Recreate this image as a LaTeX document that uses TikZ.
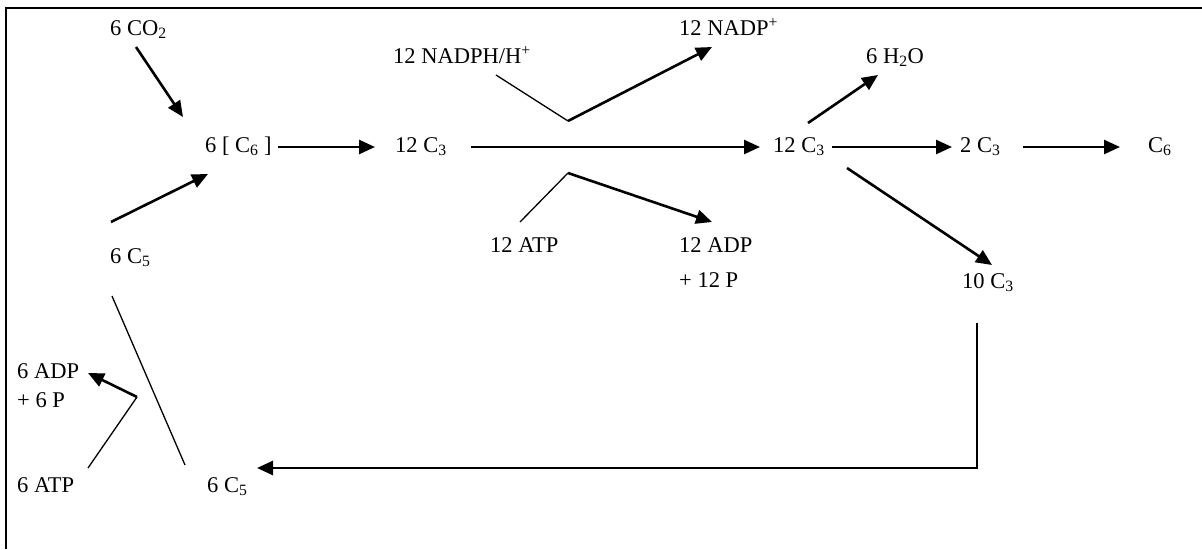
\documentclass[tikz,border=0pt]{standalone}
\usepackage{fontspec}
\setmainfont{Liberation Serif}
\usetikzlibrary{arrows.meta}
\begin{document}
\begin{tikzpicture}[x=1pt,y=-1pt,
  lbl/.style={anchor=base west,inner sep=0pt,font=\fontsize{22.5}{27}\selectfont},
  thick arrow/.style={line width=2.6pt,-{Triangle[length=16pt,width=14pt]}},
  thin line/.style={line width=1.3pt}]
\useasboundingbox (0,0) rectangle (1202,549);
% frame (only top and left edges visible)
\draw[line width=2.4pt] (1202,8) -- (6,8) -- (6,549);
% labels
\node[lbl] (co2) at (110,35) {6 CO\textsubscript{2}};
\node[lbl] (c6a) at (205,152) {6 [ C\textsubscript{6} ]};
\node[lbl] (c5a) at (110,263) {6 C\textsubscript{5}};
\node[lbl] (nadp) at (679,35) {12 NADP\textsuperscript{+}};
\node[lbl] (nadph) at (393,63) {12 NADPH/H\textsuperscript{+}};
\node[lbl] (c3a) at (395,152) {12 C\textsubscript{3}};
\node[lbl] (atp12) at (490,252) {12 ATP};
\node[lbl] (adp12) at (679,252) {\begin{tabular}[t]{@{}l@{}}12 ADP\\[8pt]+ 12 P\end{tabular}};
\node[lbl] (h2o) at (866,63) {6 H\textsubscript{2}O};
\node[lbl] (c3b) at (773,152) {12 C\textsubscript{3}};
\node[lbl] (c3c) at (960,152) {2 C\textsubscript{3}};
\node[lbl] (c6b) at (1148,152) {C\textsubscript{6}};
\node[lbl] (c3d) at (962,288) {10 C\textsubscript{3}};
\node[lbl] (adp6) at (17,378) {\begin{tabular}[t]{@{}l@{}}6 ADP\\[2pt]+ 6 P\end{tabular}};
\node[lbl] (atp6) at (17,492) {6 ATP};
\node[lbl] (c5b) at (207,492) {6 C\textsubscript{5}};
% connector end points
\coordinate (p1s) at (136,47);  \coordinate (p1e) at (183,117);
\coordinate (p2s) at (111,222); \coordinate (p2e) at (208,174);
\coordinate (p3s) at (278,147); \coordinate (p3e) at (375,147);
\coordinate (p4s) at (471,147); \coordinate (p4e) at (760,147);
\coordinate (n1) at (496,75);   \coordinate (n2) at (568,121); \coordinate (n3) at (712,47);
\coordinate (t1) at (520,222);  \coordinate (t2) at (568,173); \coordinate (t3) at (712,222);
\coordinate (h1) at (808,123);  \coordinate (h2) at (878,75);
\coordinate (q1s) at (832,147); \coordinate (q1e) at (952,147);
\coordinate (q2s) at (1023,147);\coordinate (q2e) at (1120,147);
\coordinate (r1s) at (847,168); \coordinate (r1e) at (992,265);
\coordinate (b1) at (977,323);  \coordinate (b2) at (977,468); \coordinate (b3) at (257,468);
\coordinate (l1) at (112,296);  \coordinate (l2) at (185,465);
\coordinate (k1) at (88,468);   \coordinate (k2) at (137,397); \coordinate (k3) at (88,373);
% connectors
\draw[thick arrow] (p1s) -- (p1e);
\draw[thick arrow] (p2s) -- (p2e);
\draw[thick arrow] (p3s) -- (p3e);
\draw[thick arrow] (p4s) -- (p4e);
\draw[thin line] (n1) -- (n2);
\draw[thick arrow] (n2) -- (n3);
\draw[thin line] (t1) -- (t2);
\draw[thick arrow] (t2) -- (t3);
\draw[thick arrow] (h1) -- (h2);
\draw[thick arrow] (q1s) -- (q1e);
\draw[thick arrow] (q2s) -- (q2e);
\draw[thick arrow] (r1s) -- (r1e);
\draw[thick arrow] (b1) -- (b2) -- (b3);
\draw[thin line] (l1) -- (l2);
\draw[thin line] (k1) -- (k2);
\draw[thick arrow] (k2) -- (k3);
\end{tikzpicture}
\end{document}
